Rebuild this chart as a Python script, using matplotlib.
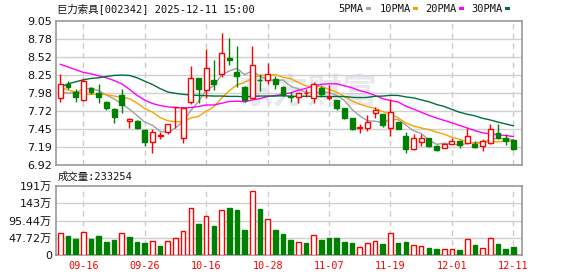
import matplotlib
matplotlib.use('Agg')
import matplotlib.pyplot as plt
from matplotlib.patches import Rectangle
import numpy as np

# ---------------- data ----------------
dates = ['09-11', '09-12', '09-15', '09-16', '09-17', '09-18', '09-19', '09-22', '09-23', '09-24',
         '09-25', '09-26', '09-29', '09-30', '10-09', '10-10', '10-13', '10-14', '10-15', '10-16',
         '10-17', '10-20', '10-21', '10-22', '10-23', '10-24', '10-27', '10-28', '10-29', '10-30',
         '10-31', '11-03', '11-04', '11-05', '11-06', '11-07', '11-10', '11-11', '11-12', '11-13',
         '11-14', '11-17', '11-18', '11-19', '11-20', '11-21', '11-24', '11-25', '11-26', '11-27',
         '11-28', '12-01', '12-02', '12-03', '12-04', '12-05', '12-08', '12-09', '12-10', '12-11']
tick_dates = ['09-16', '09-26', '10-16', '10-28', '11-07', '11-19', '12-01', '12-11']

opens = [7.906, 8.123, 8.005, 7.877, 8.064, 7.990, 7.852, 7.748, 7.955, 7.576,
         7.571, 7.438, 7.265, 7.354, 7.403, 7.775, 7.324, 7.857, 8.202, 8.024,
         8.172, 8.261, 8.498, 8.296, 8.074, 7.916, 8.182, 8.182, 8.187, 8.069,
         7.936, 7.926, 7.985, 7.906, 8.064, 7.915, 7.877, 7.758, 7.610, 7.472,
         7.462, 7.684, 7.669, 7.462, 7.556, 7.349, 7.152, 7.265, 7.315, 7.201,
         7.176, 7.236, 7.275, 7.250, 7.236, 7.196, 7.250, 7.388, 7.315, 7.290]
closes = [8.113, 8.079, 7.931, 8.163, 8.000, 7.926, 7.758, 7.635, 7.808, 7.600,
          7.462, 7.265, 7.403, 7.364, 7.522, 7.780, 7.758, 8.202, 8.039, 8.350,
          8.113, 8.572, 8.478, 8.236, 7.881, 8.394, 8.172, 8.261, 8.113, 7.955,
          7.921, 7.980, 7.990, 8.113, 7.965, 7.920, 7.758, 7.620, 7.448, 7.487,
          7.556, 7.729, 7.507, 7.704, 7.457, 7.152, 7.315, 7.315, 7.201, 7.147,
          7.226, 7.270, 7.216, 7.349, 7.191, 7.275, 7.448, 7.324, 7.275, 7.152]
highs = [8.261, 8.163, 8.039, 8.202, 8.079, 8.113, 7.867, 7.758, 8.039, 7.610,
         7.586, 7.452, 7.452, 7.408, 7.531, 7.785, 7.778, 8.384, 8.212, 8.631,
         8.468, 8.872, 8.794, 8.680, 8.084, 8.680, 8.261, 8.424, 8.236, 8.089,
         8.005, 7.990, 8.039, 8.148, 8.084, 8.098, 7.886, 7.768, 7.620, 7.522,
         7.660, 7.778, 7.679, 7.891, 7.561, 7.413, 7.374, 7.374, 7.324, 7.216,
         7.250, 7.324, 7.285, 7.462, 7.275, 7.300, 7.522, 7.531, 7.374, 7.300]
lows = [7.857, 8.039, 7.857, 7.867, 7.975, 7.842, 7.729, 7.536, 7.694, 7.462,
        7.457, 7.201, 7.102, 7.310, 7.374, 7.460, 7.250, 7.827, 7.842, 7.916,
        8.024, 8.222, 8.399, 8.074, 7.857, 7.891, 8.015, 8.113, 8.039, 7.941,
        7.857, 7.842, 7.926, 7.842, 7.926, 7.877, 7.729, 7.605, 7.433, 7.398,
        7.423, 7.610, 7.482, 7.349, 7.448, 7.102, 7.142, 7.201, 7.186, 7.127,
        7.167, 7.226, 7.176, 7.236, 7.176, 7.127, 7.236, 7.300, 7.216, 7.142]

# volume in 万 (10k lots)
volumes = [59.9, 52.6, 44.3, 63.6, 44.3, 52.6, 36.9, 41.5, 59.9, 49.8,
           36.9, 33.2, 38.7, 24.9, 38.7, 46.1, 66.4, 129.1, 85.8, 107.9,
           80.2, 124.5, 130.0, 124.5, 69.2, 176.1, 127.3, 98.7, 69.2, 58.1,
           41.5, 36.9, 32.3, 55.3, 41.5, 46.1, 46.1, 36.9, 32.3, 21.2,
           32.3, 38.7, 30.4, 59.9, 32.3, 36.0, 26.7, 24.0, 19.4, 16.6,
           15.7, 15.7, 13.8, 43.3, 27.7, 18.4, 46.1, 30.4, 16.6, 23.3]
vol_up = [1, 0, 0, 1, 0, 0, 0, 0, 1, 0,
          0, 0, 1, 0, 1, 1, 1, 1, 0, 1,
          0, 1, 0, 0, 0, 1, 0, 1, 0, 0,
          0, 1, 0, 1, 0, 0, 0, 0, 0, 1,
          1, 1, 0, 1, 0, 0, 1, 1, 0, 0,
          1, 1, 0, 1, 0, 1, 1, 0, 0, 0]

# moving-average values for the days before a full window exists
ma5_head = [7.99, 7.985, 7.99, 8.04]
ma10_head = [8.07, 8.03, 8.00, 7.97, 7.965, 7.97, 7.96, 7.94, 7.92]
ma20_head = [8.41, 8.37, 8.33, 8.29, 8.27, 8.24, 8.21, 8.17, 8.12, 8.04,
             7.95, 7.88, 7.83, 7.80, 7.78, 7.77, 7.765, 7.77, 7.785]
ma30_head = [8.07, 8.12, 8.15, 8.18, 8.20, 8.21, 8.23, 8.245, 8.25, 8.245,
             8.21, 8.16, 8.11, 8.05, 8.00, 7.98, 7.965, 7.955, 7.95, 7.945,
             7.94, 7.94, 7.935, 7.935, 7.93, 7.935, 7.94, 7.94, 7.94]

price_ticks = [6.92, 7.19, 7.45, 7.72, 7.98, 8.25, 8.52, 8.78, 9.05]
vol_ticks = [0, 47.72, 95.44, 143.16, 190.88]
vol_tick_labels = ['0', '47.72万', '95.44万', '143万', '191万']

title = '巨力索具[002342] 2025-12-11 15:00'
vol_title = '成交量:233254'

# ---------------- styling ----------------
RED = '#ff0000'
GREEN = '#008000'
MA_COLORS = {'5PMA': '#a0a0a0', '10PMA': '#f5a400', '20PMA': '#ff00ff', '30PMA': '#00703a'}
GRID = '#d0d0d0'
SPINE = '#999999'
MONO = ['DejaVu Sans Mono', 'Noto Sans CJK SC']
SANS = ['DejaVu Sans', 'Noto Sans CJK SC']

W, H = 578, 276
fig = plt.figure(figsize=(W / 100, H / 100), dpi=100)
fig.patch.set_facecolor('white')

L, R = 56, 522
ax = fig.add_axes([L / W, 1 - 165 / H, (R - L) / W, 144 / H])
axv = fig.add_axes([L / W, 1 - 255 / H, (R - L) / W, 69 / H])

n = len(dates)
x = np.arange(n)
o = np.array(opens); c = np.array(closes); h = np.array(highs); lo = np.array(lows)
up = c >= o


def moving_avg(head, win):
    vals = list(head)
    for i in range(win - 1, n):
        vals.append(np.mean(c[i - win + 1:i + 1]))
    return np.array(vals[:n])


mas = {'5PMA': moving_avg(ma5_head, 5), '10PMA': moving_avg(ma10_head, 10),
       '20PMA': moving_avg(ma20_head, 20), '30PMA': moving_avg(ma30_head, 30)}

tick_pos = [dates.index(d) for d in tick_dates]

for a in (ax, axv):
    a.set_xlim(-0.56, 60.13)
    for s in a.spines.values():
        s.set_color(SPINE)
        s.set_linewidth(1.2)
    for tp in tick_pos:
        a.axvline(tp, color='#cccccc', lw=1, ls=(0, (4, 3)), zorder=0)
    a.tick_params(length=0)

# price panel
ax.set_ylim(price_ticks[0], price_ticks[-1])
ax.set_yticks(price_ticks)
ax.set_yticklabels([f'{t:.2f}' for t in price_ticks], fontsize=8, color='#111111', family=SANS)
ax.tick_params(axis='y', pad=3)
ax.set_xticks([])
for t in price_ticks[1:-1]:
    ax.axhline(t, color=GRID, lw=1, zorder=0)

ax.text(0.541, 0.507, '东方财富', transform=ax.transAxes, ha='center', va='center',
        fontsize=25, fontweight='bold', color='#c9cdd8', alpha=0.45,
        family=['Noto Sans CJK SC'], zorder=0.5)

bw = 0.64
for i in range(n):
    col = RED if up[i] else GREEN
    ax.vlines(x[i], lo[i], h[i], color=col, lw=1, zorder=3)
    bot = min(o[i], c[i]); ht = max(abs(c[i] - o[i]), 0.004)
    ax.bar(x[i], ht, bottom=bot, width=bw, facecolor='white' if up[i] else GREEN,
           edgecolor=col, lw=1, zorder=4)

for name, vals in mas.items():
    ax.plot(x, vals, color=MA_COLORS[name], lw=1, zorder=2)

# volume panel
axv.set_ylim(vol_ticks[0], vol_ticks[-1])
axv.set_yticks(vol_ticks)
axv.set_yticklabels(vol_tick_labels, fontsize=8, color='#111111', family=SANS)
axv.tick_params(axis='y', pad=3)
for t in vol_ticks[1:-1]:
    axv.axhline(t, color=GRID, lw=1, zorder=0)
for i in range(n):
    col = RED if vol_up[i] else GREEN
    axv.bar(x[i], volumes[i], width=0.6, facecolor='white' if vol_up[i] else GREEN,
            edgecolor=col, lw=1, zorder=3)
axv.set_xticks(tick_pos)
axv.set_xticklabels(tick_dates, fontsize=7.3, color=RED, family=MONO)
axv.tick_params(axis='x', pad=4)

# texts
fig.text(57 / W, 1 - 8.7 / H, title, fontsize=7.5, family=MONO, ha='left', va='center', color='#111111')
fig.text(58 / W, 1 - 177 / H, vol_title, fontsize=7.5, family=MONO, ha='left', va='center', color='#111111')

legend_pos = {'5PMA': (338, 365.7), '10PMA': (380, 413.3), '20PMA': (425.7, 458.7), '30PMA': (471.7, 505)}
for name, (tx, sx) in legend_pos.items():
    fig.text(tx / W, 1 - 9 / H, name, fontsize=7.5, family=MONO, ha='left', va='center', color='#111111')
    fig.patches.append(Rectangle((sx / W, 1 - 10 / H), 5 / W, 3 / H, transform=fig.transFigure,
                                 facecolor=MA_COLORS[name], edgecolor='none'))

fig.savefig('out.png', dpi=100, facecolor='white')
